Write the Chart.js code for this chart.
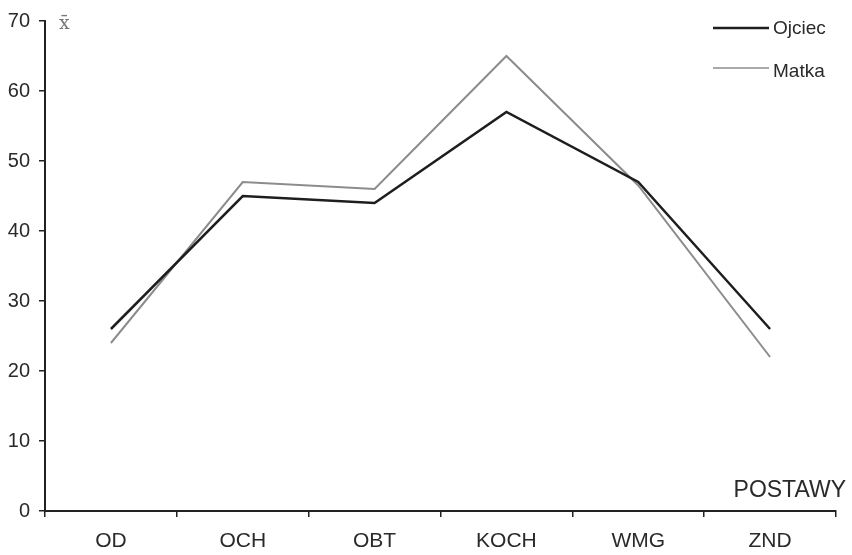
<!DOCTYPE html>
<html>
<head>
<meta charset="utf-8">
<script src="https://cdn.jsdelivr.net/npm/chart.js@4"></script>
<style>
  html, body { margin: 0; padding: 0; background: #fff; }
  #wrap { width: 852px; height: 555px; }
</style>
</head>
<body>
<div id="wrap"><canvas id="chart" width="852" height="555"></canvas></div>
<script>
// Chart data
const categories = ['OD', 'OCH', 'OBT', 'KOCH', 'WMG', 'ZND'];
const ojciecValues = [26, 45, 44, 57, 47, 26];
const matkaValues = [24, 47, 46, 65, 46.5, 22];
const seriesLabels = ['Ojciec', 'Matka'];
const yAxisTitle = 'x\u0304';
const xAxisTitle = 'POSTAWY';

const FONT = '"Liberation Sans", Arial, sans-serif';

// Legend stacked in the top-right corner, plus axis captions
const captionsPlugin = {
  id: 'captions',
  afterDraw(chart) {
    const ctx = chart.ctx;
    ctx.save();
    // legend
    const lineY = [28, 68];
    const textY = [29, 72];
    chart.data.datasets.forEach((ds, i) => {
      ctx.strokeStyle = ds.borderColor;
      ctx.lineWidth = i === 0 ? 2.5 : 1.5;
      ctx.beginPath();
      ctx.moveTo(713, lineY[i]);
      ctx.lineTo(769, lineY[i]);
      ctx.stroke();
      ctx.fillStyle = '#2a2a2a';
      ctx.font = '19px ' + FONT;
      ctx.textAlign = 'left';
      ctx.textBaseline = 'middle';
      ctx.fillText(ds.label, 773, textY[i]);
    });
    // axis captions
    ctx.fillStyle = '#2a2a2a';
    ctx.font = '23px ' + FONT;
    ctx.textAlign = 'right';
    ctx.textBaseline = 'middle';
    ctx.fillText(xAxisTitle, 846, 491);
    ctx.fillStyle = '#777';
    ctx.font = '19px "DejaVu Serif", serif';
    ctx.textAlign = 'left';
    ctx.fillText(yAxisTitle, 59, 24);
    ctx.restore();
  }
};

const ctx = document.getElementById('chart').getContext('2d');
new Chart(ctx, {
  type: 'line',
  data: {
    labels: categories,
    datasets: [
      {
        label: seriesLabels[0],
        data: ojciecValues,
        borderColor: '#1e1e1e',
        borderWidth: 2.5,
        pointRadius: 0,
        tension: 0
      },
      {
        label: seriesLabels[1],
        data: matkaValues,
        borderColor: '#8c8c8c',
        borderWidth: 2,
        pointRadius: 0,
        tension: 0
      }
    ]
  },
  options: {
    responsive: false,
    animation: false,
    layout: { padding: { top: 20, right: 16, left: 0, bottom: 0 } },
    plugins: {
      legend: { display: false },
      tooltip: { enabled: false }
    },
    scales: {
      x: {
        offset: true,
        grid: {
          offset: true,
          drawOnChartArea: false,
          drawTicks: true,
          tickLength: 6,
          color: '#222',
          lineWidth: 1.5
        },
        border: { color: '#222', width: 2 },
        ticks: {
          color: '#2a2a2a',
          font: { family: FONT, size: 21 },
          padding: 12,
          maxRotation: 0
        },
        afterFit(scale) { scale.height = 44; }
      },
      y: {
        min: 0,
        max: 70,
        grid: {
          drawOnChartArea: false,
          drawTicks: true,
          tickLength: 6,
          color: '#222',
          lineWidth: 1.5
        },
        border: { color: '#222', width: 2 },
        ticks: {
          stepSize: 10,
          color: '#2a2a2a',
          font: { family: FONT, size: 20 },
          padding: 9
        },
        afterFit(scale) { scale.width = 45; }
      }
    }
  },
  plugins: [captionsPlugin]
});
</script>
</body>
</html>
